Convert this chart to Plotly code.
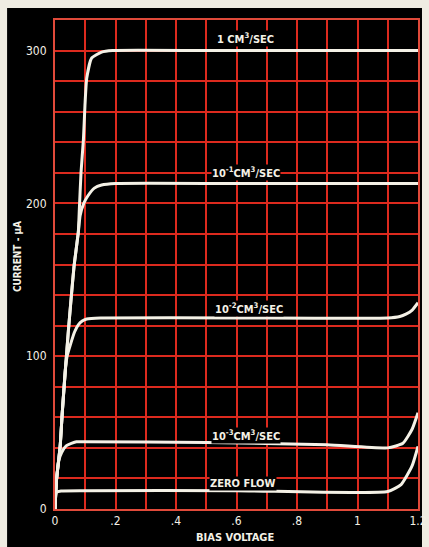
import plotly.graph_objects as go

# shared rising part of the traces (bias voltage, current in uA)
rise_v = [0, 0.005, 0.017, 0.024, 0.035, 0.044, 0.053, 0.063, 0.077, 0.08, 0.086, 0.094, 0.099, 0.105]
rise_i = [0, 19, 41, 63, 93, 116, 137, 159, 181, 194, 220, 242, 264, 282]

flow1_v = rise_v + [0.121, 0.154, 0.19, 0.5, 0.8, 1.2]
flow1_i = rise_i + [295, 299, 300, 300, 300, 300]

flow01_v = rise_v[:9] + [0.083, 0.095, 0.109, 0.13, 0.154, 0.2, 0.6, 1.2]
flow01_i = rise_i[:9] + [192, 200, 205, 210, 212, 213, 213, 213]

flow001_v = rise_v[:5] + [0.04, 0.05, 0.065, 0.077, 0.09, 0.105, 0.15, 0.6, 1.1, 1.14, 1.16, 1.18, 1.2]
flow001_i = rise_i[:5] + [100, 107, 116, 120.5, 123, 124.3, 125, 125, 125, 126, 127.5, 130, 135]

flow0001_v = rise_v[:2] + [0.013, 0.022, 0.038, 0.071, 0.1, 0.5, 0.9, 1.1, 1.15, 1.18, 1.2]
flow0001_i = rise_i[:2] + [32, 37, 41.5, 44, 44, 43.5, 42, 40, 43, 52, 63]

zero_v = [0, 0.001, 0.005, 0.02, 0.1, 0.6, 1.1, 1.144, 1.18, 1.2]
zero_i = [0, 8, 11, 11.8, 12, 12, 11.4, 16, 28, 41]

curves = [
    (flow1_v, flow1_i), (flow01_v, flow01_i), (flow001_v, flow001_i),
    (flow0001_v, flow0001_i), (zero_v, zero_i),
]

# labels: text, x, y
labels = [
    ("1 CM<sup>3</sup>/SEC", 0.63, 308),
    ("10<sup>-1</sup>CM<sup>3</sup>/SEC", 0.63, 220),
    ("10<sup>-2</sup>CM<sup>3</sup>/SEC", 0.64, 131),
    ("10<sup>-3</sup>CM<sup>3</sup>/SEC", 0.63, 48),
    ("ZERO FLOW", 0.62, 17),
]

x_ticks = [0, 0.2, 0.4, 0.6, 0.8, 1.0, 1.2]
x_text = ["0", ".2", ".4", ".6", ".8", "1", "1.2"]
y_ticks = [0, 100, 200, 300]
y_text = ["0", "100", "200", "300"]

fig = go.Figure()
for v, i in curves:
    fig.add_trace(go.Scatter(
        x=v, y=i, mode="lines",
        line=dict(color="#f4f1e6", width=3, shape="spline", smoothing=0.5),
        hoverinfo="skip", showlegend=False,
    ))

font_lbl = "DejaVu Sans Condensed, Liberation Sans, Arial"
annotations = []
for txt, x, y in labels:
    annotations.append(dict(
        x=x, y=y, xref="x", yref="y", text="<b>" + txt + "</b>", showarrow=False,
        xanchor="center", yanchor="middle",
        font=dict(color="#f4f1e6", size=11, family=font_lbl),
        bgcolor="black", borderpad=0,
    ))
annotations.append(dict(
    x=-0.105, y=0.517, xref="paper", yref="paper", text="<b>CURRENT - µA</b>",
    textangle=-90, showarrow=False, xanchor="center", yanchor="middle",
    font=dict(color="#f4f1e6", size=10, family=font_lbl),
))
annotations.append(dict(
    x=0.496, y=-0.059, xref="paper", yref="paper", text="<b>BIAS VOLTAGE</b>",
    showarrow=False, xanchor="center", yanchor="middle",
    font=dict(color="#f4f1e6", size=11, family=font_lbl),
))

fig.update_layout(
    width=429, height=547,
    margin=dict(l=55, r=11, t=20, b=38),
    paper_bgcolor="#efece2",
    plot_bgcolor="black",
    annotations=annotations,
    shapes=[dict(
        type="rect", xref="paper", yref="paper",
        x0=-0.132, x1=1.011, y0=-0.08, y1=1.0245,
        fillcolor="black", line_width=0, layer="below",
    )],
)

grid_red = "#dc2a1e"
fig.update_xaxes(
    range=[0, 1.2], tickvals=x_ticks, ticktext=x_text,
    showgrid=True, gridcolor=grid_red, gridwidth=2,
    minor=dict(dtick=0.1, showgrid=True, gridcolor=grid_red, gridwidth=2),
    showline=True, linecolor="#e04a3a", linewidth=2, mirror=True,
    zeroline=False, ticks="", automargin=False,
    tickfont=dict(color="#f4f1e6", size=12, family=font_lbl),
)
fig.update_yaxes(
    range=[0, 320], tickvals=y_ticks, ticktext=y_text,
    showgrid=True, gridcolor=grid_red, gridwidth=2,
    minor=dict(dtick=20, showgrid=True, gridcolor=grid_red, gridwidth=2),
    showline=True, linecolor="#e04a3a", linewidth=2, mirror=True,
    zeroline=False, ticks="", automargin=False, ticklabelstandoff=4,
    tickfont=dict(color="#f4f1e6", size=12, family=font_lbl),
)

fig.write_html("out.html", config={"displayModeBar": False},
               post_script="document.body.style.margin='0';")
